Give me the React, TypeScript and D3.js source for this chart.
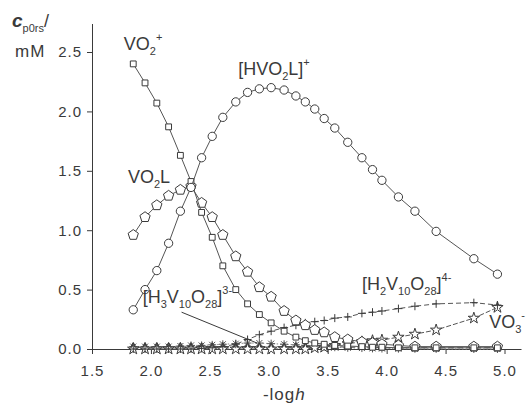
import React, { useEffect, useRef } from 'react';
import * as d3 from 'd3';

// -log h values shared by every species
const logH = [1.85, 1.95, 2.05, 2.15, 2.25, 2.34, 2.43, 2.52, 2.61, 2.72, 2.82, 2.92, 3.02, 3.13, 3.23, 3.31, 3.39, 3.47, 3.56, 3.67, 3.79, 3.88, 3.96, 4.1, 4.24, 4.42, 4.74, 4.94];

// concentrations, mM
const vo2 = [2.4, 2.24, 2.07, 1.87, 1.63, 1.41, 1.15, 0.94, 0.7, 0.5, 0.38, 0.29, 0.22, 0.15, 0.1, 0.07, 0.05, 0.04, 0.03, 0.025, 0.02, 0.015, 0.015, 0.01, 0.01, 0.01, 0.01, 0.01];
const hvo2l = [0.33, 0.5, 0.66, 0.89, 1.16, 1.36, 1.61, 1.79, 1.95, 2.08, 2.16, 2.19, 2.2, 2.18, 2.13, 2.08, 2.02, 1.94, 1.86, 1.74, 1.61, 1.51, 1.42, 1.28, 1.16, 0.99, 0.76, 0.63];
const vo2l = [0.96, 1.11, 1.21, 1.29, 1.34, 1.37, 1.23, 1.11, 0.96, 0.78, 0.65, 0.52, 0.44, 0.32, 0.24, 0.2, 0.16, 0.14, 0.1, 0.08, 0.06, 0.05, 0.04, 0.03, 0.02, 0.02, 0.02, 0.02];
const h2v10o28 = [0, 0, 0, 0, 0, 0, 0.005, 0.01, 0.02, 0.04, 0.08, 0.12, 0.15, 0.18, 0.2, 0.22, 0.23, 0.24, 0.26, 0.27, 0.3, 0.31, 0.32, 0.34, 0.36, 0.38, 0.39, 0.37];
const vo3 = [0, 0, 0, 0, 0, 0, 0, 0, 0, 0, 0, 0, 0, 0, 0, 0, 0.01, 0.015, 0.03, 0.045, 0.06, 0.07, 0.075, 0.1, 0.125, 0.16, 0.26, 0.35];
const h3v10o28 = [0.02, 0.02, 0.02, 0.02, 0.025, 0.03, 0.03, 0.035, 0.04, 0.045, 0.05, 0.05, 0.045, 0.04, 0.035, 0.03, 0.025, 0.02, 0.015, 0.01, 0.008, 0.005, 0.004, 0.003, 0.002, 0.001, 0, 0];
const minorSpecies = [0.02, 0.02, 0.02, 0.02, 0.02, 0.02, 0.02, 0.02, 0.02, 0.02, 0.02, 0.02, 0.02, 0.02, 0.02, 0.02, 0.02, 0.02, 0.02, 0.015, 0.015, 0.015, 0.01, 0.01, 0.01, 0.01, 0.01, 0.01];

const xMajor = [1.5, 2.0, 2.5, 3.0, 3.5, 4.0, 4.5, 5.0];
const yMajor = [0, 0.5, 1.0, 1.5, 2.0, 2.5];

const FONT = '"Liberation Sans", Arial, sans-serif';
const INK = '#3a3a3a';

function polygonPath(n: number, r: number) {
  const pts = d3.range(n).map(i => {
    const a = -Math.PI / 2 + (i * 2 * Math.PI) / n;
    return [r * Math.cos(a), r * Math.sin(a)];
  });
  return 'M' + pts.map(p => p.join(',')).join('L') + 'Z';
}

const markers: Record<string, string> = {
  square: d3.symbol(d3.symbolSquare, 34)() as string,
  circle: d3.symbol(d3.symbolCircle, 54)() as string,
  pentagon: polygonPath(5, 5.4),
  star: d3.symbol(d3.symbolStar, 40)() as string,
  plus: 'M-4,0H4M0,-4V4',
  asterisk: 'M-4,0H4M0,-4V4M-3,-3L3,3M-3,3L3,-3',
  triangle: d3.symbol(d3.symbolTriangle, 22)() as string,
};

export default function App() {
  const ref = useRef<SVGSVGElement>(null);

  useEffect(() => {
    const svg = d3.select(ref.current);
    svg.selectAll('*').remove();

    const x = d3.scaleLinear().domain([1.5, 5.14]).range([92, 521]);
    const y = d3.scaleLinear().domain([0, 2.74]).range([349, 23.5]);

    // axes
    const fmt = (d: d3.NumberValue) => d3.format('.1f')(d as number);
    const gx = svg.append('g').attr('transform', `translate(0,${y(0)})`);
    gx.call(d3.axisBottom(x).tickValues(d3.range(1.75, 5.01, 0.5)).tickSize(4).tickSizeOuter(0).tickFormat(() => ''));
    gx.call(d3.axisBottom(x).tickValues(xMajor).tickSize(5).tickSizeOuter(0).tickPadding(11).tickFormat(fmt));
    const gy = svg.append('g').attr('transform', `translate(${x(1.5)},0)`);
    gy.call(d3.axisLeft(y).tickValues(d3.range(0.25, 2.51, 0.5)).tickSize(4).tickSizeOuter(0).tickFormat(() => ''));
    gy.call(d3.axisLeft(y).tickValues(yMajor).tickSize(5).tickSizeOuter(0).tickPadding(5).tickFormat(fmt));
    svg.selectAll('.domain').attr('stroke', INK);
    svg.selectAll('.tick line').attr('stroke', INK);
    svg.selectAll('.tick text')
      .attr('font-family', FONT)
      .attr('font-size', 15)
      .attr('letter-spacing', 1)
      .attr('fill', INK);

    const series = [
      { name: 'minor', values: minorSpecies, marker: 'triangle', dash: '6,3', fill: '#222', line: '#444' },
      { name: 'H3V10O28', values: h3v10o28, marker: 'asterisk', dash: '1.5,2', fill: 'none', line: '#888' },
      { name: 'VO3', values: vo3, marker: 'star', dash: '5,2', fill: '#fff', line: '#555' },
      { name: 'H2V10O28', values: h2v10o28, marker: 'plus', dash: '5,3', fill: 'none', line: '#555' },
      { name: 'VO2L', values: vo2l, marker: 'pentagon', dash: null, fill: '#fff', line: '#555' },
      { name: 'VO2', values: vo2, marker: 'square', dash: null, fill: '#fff', line: '#555' },
      { name: 'HVO2L', values: hvo2l, marker: 'circle', dash: null, fill: '#fff', line: '#555' },
    ];

    const line = d3.line<number>().x((_, i) => x(logH[i])).y(d => y(d));

    series.forEach(s => {
      const g = svg.append('g');
      g.append('path')
        .attr('d', line(s.values))
        .attr('fill', 'none')
        .attr('stroke', s.line)
        .attr('stroke-width', 1)
        .attr('stroke-dasharray', s.dash);
      g.selectAll('path.m')
        .data(s.values)
        .join('path')
        .attr('class', 'm')
        .attr('transform', (d, i) => `translate(${x(logH[i])},${y(d)})`)
        .attr('d', markers[s.marker])
        .attr('fill', s.fill)
        .attr('stroke', s.marker === 'asterisk' ? '#555' : INK)
        .attr('stroke-width', 1);
    });

    // species labels
    const label = (px: number, py: number, parts: [string, 'n' | 'sub' | 'sup'][]) => {
      const t = svg.append('text')
        .attr('x', x(px))
        .attr('y', y(py))
        .attr('font-family', FONT)
        .attr('font-size', 18)
        .attr('fill', INK);
      let shift = 0;
      parts.forEach(([str, kind]) => {
        const target = kind === 'sub' ? 5 : kind === 'sup' ? -9 : 0;
        t.append('tspan')
          .attr('dy', target - shift)
          .attr('font-size', kind === 'n' ? 18 : 11)
          .text(str);
        shift = target;
      });
    };
    label(1.77, 2.52, [['VO', 'n'], ['2', 'sub'], ['+', 'sup']]);
    label(2.74, 2.31, [['[HVO', 'n'], ['2', 'sub'], ['L]', 'n'], ['+', 'sup']]);
    label(1.805, 1.4, [['VO', 'n'], ['2', 'sub'], ['L', 'n']]);
    label(1.93, 0.39, [['[H', 'n'], ['3', 'sub'], ['V', 'n'], ['10', 'sub'], ['O', 'n'], ['28', 'sub'], [']', 'n'], ['3-', 'sup']]);
    label(3.79, 0.5, [['[H', 'n'], ['2', 'sub'], ['V', 'n'], ['10', 'sub'], ['O', 'n'], ['28', 'sub'], [']', 'n'], ['4-', 'sup']]);
    label(4.87, 0.18, [['VO', 'n'], ['3', 'sub'], ['-', 'sup']]);

    // pointer to the H3V10O28 curve
    svg.append('line')
      .attr('x1', x(2.26)).attr('y1', y(0.31))
      .attr('x2', x(2.9)).attr('y2', y(0.05))
      .attr('stroke', INK)
      .attr('stroke-width', 1);

    // axis titles
    const xt = svg.append('text')
      .attr('x', x(2.95))
      .attr('y', 400)
      .attr('font-family', FONT)
      .attr('font-size', 17)
      .attr('letter-spacing', 1)
      .attr('fill', INK);
    xt.append('tspan').text('-log');
    xt.append('tspan').attr('font-style', 'italic').text('h');

    const yt = svg.append('text')
      .attr('x', 12)
      .attr('y', 27)
      .attr('font-family', FONT)
      .attr('fill', INK);
    yt.append('tspan').attr('font-size', 19).attr('font-style', 'italic').attr('font-weight', 'bold').text('c');
    yt.append('tspan').attr('font-size', 11).attr('dy', 5).text('p0rs');
    yt.append('tspan').attr('font-size', 18).attr('dy', -5).text('/');
    svg.append('text')
      .attr('x', 15)
      .attr('y', 57)
      .attr('font-family', FONT)
      .attr('font-size', 17)
      .attr('letter-spacing', 1)
      .attr('fill', INK)
      .text('mM');
  }, []);

  return (
    <svg
      ref={ref}
      width={530}
      height={405}
      style={{ position: 'absolute', left: 0, top: 0, background: '#fff' }}
    />
  );
}
